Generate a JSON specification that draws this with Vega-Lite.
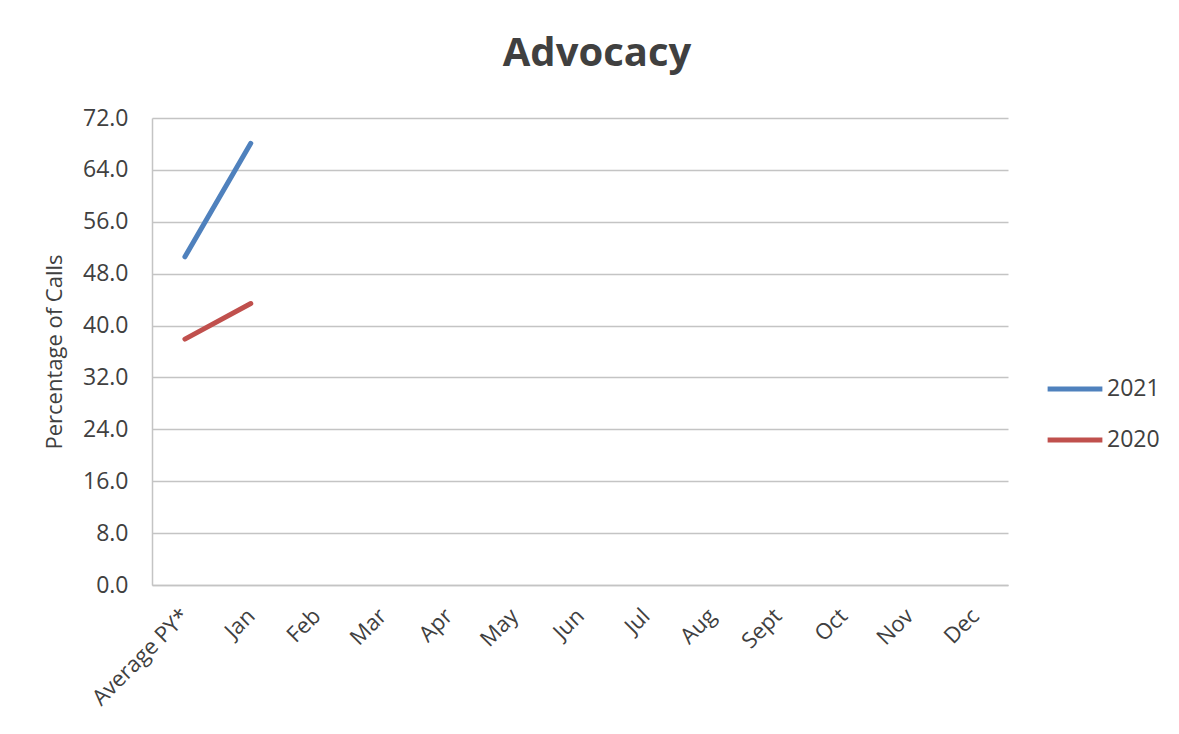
{
  "$schema": "https://vega.github.io/schema/vega-lite/v6.json",
  "width": 856,
  "height": 467,
  "autosize": {"type": "none"},
  "padding": {"left": 152, "top": 118, "right": 171, "bottom": 149},
  "background": "white",
  "title": {
    "text": "Advocacy",
    "font": "Open Sans",
    "fontSize": 40,
    "fontWeight": "bold",
    "color": "#404040",
    "anchor": "middle",
    "dx": 17,
    "offset": 33
  },
  "data": {
    "values": [
      {"month": "Average PY*", "year": "2021", "pct": 50.6},
      {"month": "Jan", "year": "2021", "pct": 68.1},
      {"month": "Average PY*", "year": "2020", "pct": 37.9},
      {"month": "Jan", "year": "2020", "pct": 43.4}
    ]
  },
  "mark": {"type": "line", "strokeWidth": 5, "strokeCap": "round"},
  "encoding": {
    "x": {
      "field": "month",
      "type": "nominal",
      "sort": null,
      "scale": {
        "type": "point",
        "padding": 0.5,
        "domain": ["Average PY*", "Jan", "Feb", "Mar", "Apr", "May", "Jun", "Jul", "Aug", "Sept", "Oct", "Nov", "Dec"]
      },
      "axis": {
        "title": null,
        "labelAngle": -45,
        "labelAlign": "right",
        "labelBaseline": "middle",
        "labelPadding": 27,
        "ticks": false,
        "grid": false,
        "domainColor": "#c4c4c4",
        "domainWidth": 1.5,
        "labelFont": "Open Sans",
        "labelFontSize": 22,
        "labelColor": "#404040"
      }
    },
    "y": {
      "field": "pct",
      "type": "quantitative",
      "scale": {"domain": [0, 72], "nice": false},
      "axis": {
        "title": "Percentage of Calls",
        "titleFont": "Open Sans",
        "titleFontSize": 22,
        "titleFontWeight": "normal",
        "titleColor": "#404040",
        "titlePadding": 16,
        "values": [0, 8, 16, 24, 32, 40, 48, 56, 64, 72],
        "format": ".1f",
        "ticks": false,
        "labelPadding": 24,
        "labelFont": "Open Sans",
        "labelFontSize": 23,
        "labelColor": "#404040",
        "gridColor": "#c4c4c4",
        "gridWidth": 1.5,
        "domainColor": "#c4c4c4",
        "domainWidth": 1.5
      }
    },
    "color": {
      "field": "year",
      "type": "nominal",
      "sort": ["2021", "2020"],
      "scale": {"domain": ["2021", "2020"], "range": ["#4f81bd", "#c0504d"]},
      "legend": {
        "title": null,
        "orient": "none",
        "legendX": 893,
        "legendY": 241,
        "symbolType": "stroke",
        "symbolSize": 3000,
        "symbolStrokeWidth": 5,
        "labelFont": "Open Sans",
        "labelFontSize": 23,
        "labelColor": "#404040",
        "labelOffset": 2,
        "rowPadding": 9
      }
    }
  },
  "config": {
    "view": {"stroke": null}
  }
}
